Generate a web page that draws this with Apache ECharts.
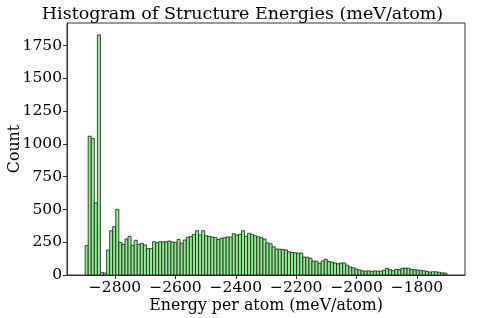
<!DOCTYPE html>
<html><head><meta charset="utf-8">
<script src="https://cdn.jsdelivr.net/npm/echarts@6/dist/echarts.min.js"></script>
<style>html,body{margin:0;padding:0;background:#fff}#c{width:485px;height:318px}</style>
</head><body><div id="c"></div>
<script>
// Histogram bin range (meV/atom)
const binStart = -2899;
const binEnd = -1701;
// Counts per bin (118 bins)
const counts = [
  224, 1059, 1041, 550, 1832, 20, 15, 191, 338, 369,
  501, 249, 234, 275, 295, 226, 265, 234, 242, 229,
  201, 201, 254, 247, 254, 252, 254, 259, 252, 249,
  272, 242, 267, 288, 293, 310, 338, 305, 338, 300,
  295, 290, 285, 270, 280, 285, 290, 290, 315, 305,
  310, 338, 295, 318, 310, 300, 292, 285, 275, 245,
  238, 215, 198, 197, 195, 192, 177, 172, 170, 166,
  167, 136, 136, 128, 106, 105, 90, 107, 120, 103,
  99, 92, 85, 92, 92, 75, 62, 55, 45, 38,
  32, 29, 32, 28, 31, 30, 29, 37, 50, 40,
  33, 43, 40, 52, 53, 52, 43, 40, 38, 35,
  32, 28, 22, 25, 24, 21, 16, 15
];
const xTicks = [-2800, -2600, -2400, -2200, -2000, -1800];
const yTicks = [0, 250, 500, 750, 1000, 1250, 1500, 1750];
const xRange = [-2959, -1641];
const yRange = [0, 1923];

const binWidth = (binEnd - binStart) / counts.length;
const data = counts.map((c, i) => [binStart + i * binWidth, binStart + (i + 1) * binWidth, c]);

const FONT = 'DejaVu Serif';
const fmtX = v => String(v).replace('-', '\u2212');
const fmtY = v => String(v);

const chart = echarts.init(document.getElementById('c'), null, {renderer: 'canvas'});
chart.setOption({
  animation: false,
  backgroundColor: '#fff',
  title: {
    text: 'Histogram of Structure Energies (meV/atom)',
    left: 'center', top: 0,
    textStyle: {fontFamily: FONT, fontWeight: 'normal', fontSize: 17.5, color: '#000'}
  },
  grid: {left: 67, right: 20, top: 23, bottom: 43, containLabel: false, outerBoundsMode: 'none',
         show: true, borderColor: '#333', borderWidth: 1, backgroundColor: 'transparent'},
  xAxis: {
    type: 'value', min: xRange[0], max: xRange[1],
    name: 'Energy per atom (meV/atom)', nameLocation: 'middle', nameGap: 23, nameMoveOverlap: false,
    nameTextStyle: {fontFamily: FONT, fontSize: 15.8, color: '#000'},
    axisLine: {show: true, onZero: false, lineStyle: {color: '#333', width: 1}},
    axisTick: {show: true, customValues: xTicks, length: 4, lineStyle: {color: '#333'}},
    axisLabel: {customValues: xTicks, formatter: fmtX, fontFamily: FONT, fontSize: 15.5, color: '#000', margin: 5},
    splitLine: {show: false}
  },
  yAxis: {
    type: 'value', min: yRange[0], max: yRange[1],
    name: 'Count', nameLocation: 'middle', nameGap: 44, nameRotate: 90, nameMoveOverlap: false,
    nameTextStyle: {fontFamily: FONT, fontSize: 15.8, color: '#000'},
    axisLine: {show: true, onZero: false, lineStyle: {color: '#333', width: 1}},
    axisTick: {show: true, customValues: yTicks, length: 4, lineStyle: {color: '#333'}},
    axisLabel: {customValues: yTicks, formatter: fmtY, fontFamily: FONT, fontSize: 15.5, color: '#000', margin: 5},
    splitLine: {show: false}
  },
  series: [{
    type: 'custom',
    encode: {x: [0, 1], y: 2},
    data: data,
    renderItem: function (params, api) {
      const p0 = api.coord([api.value(0), api.value(2)]);
      const p1 = api.coord([api.value(1), 0]);
      return {
        type: 'rect',
        shape: {x: p0[0], y: p0[1], width: p1[0] - p0[0], height: p1[1] - p0[1]},
        style: {fill: '#90ee90', stroke: '#1a1a1a', lineWidth: 0.8}
      };
    }
  }]
});
</script>
</body></html>
